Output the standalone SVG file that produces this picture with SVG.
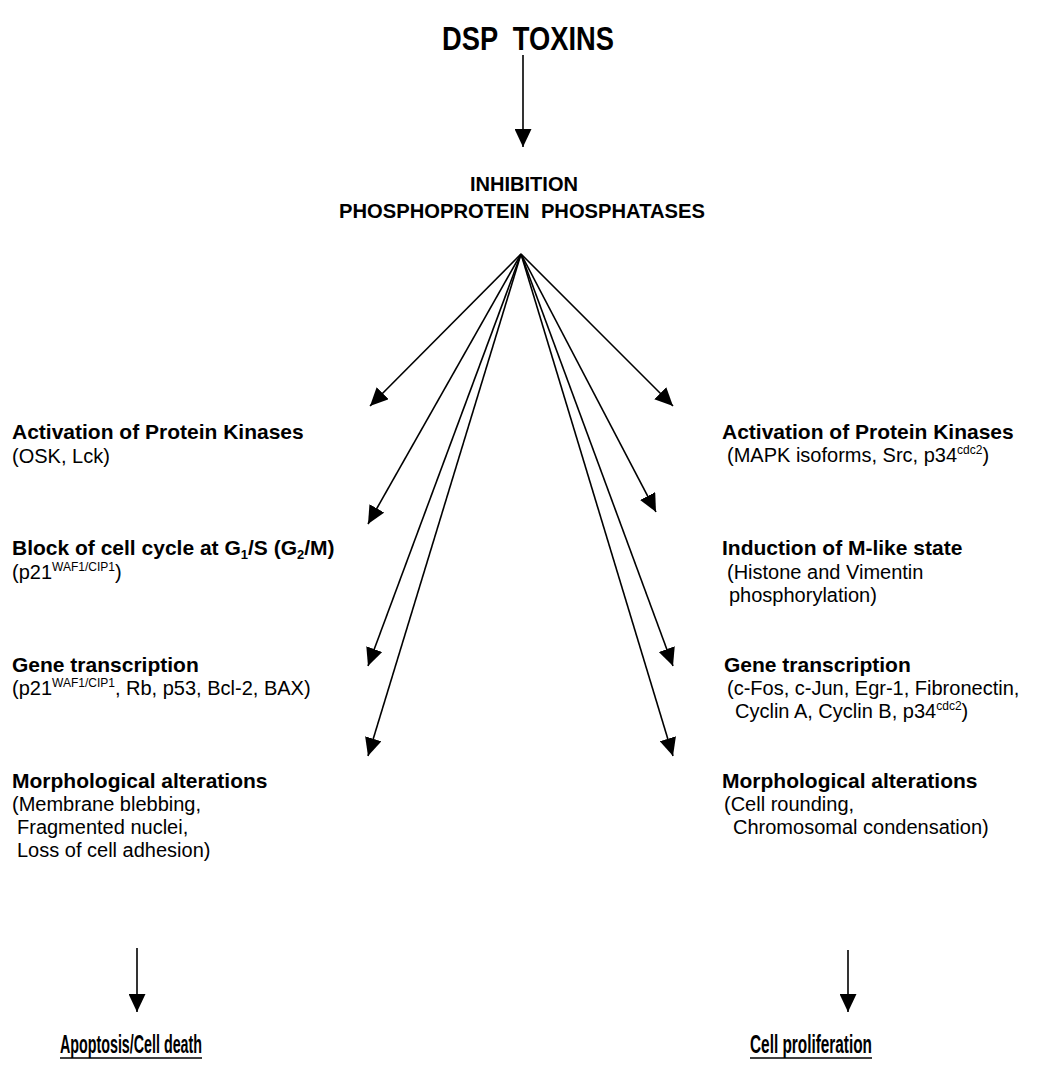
<svg xmlns="http://www.w3.org/2000/svg" width="1040" height="1067" viewBox="0 0 1040 1067">
  <style>
    text { font-family: "Liberation Sans", Arial, sans-serif; fill: #000; }
    .title { font-size: 34px; font-weight: bold; }
    .head { font-size: 21px; font-weight: bold; }
    .body { font-size: 20px; }
    .sup { font-size: 12px; }
    .sub { font-size: 13px; }
    .out { font-size: 25px; font-weight: bold; }
    .edge { stroke: #000; stroke-width: 1.6; fill: none; marker-end: url(#arrow); }
    .rule { stroke: #000; stroke-width: 1.6; }
  </style>
  <defs>
    <marker id="arrow" markerUnits="userSpaceOnUse" markerWidth="19" markerHeight="17" refX="18" refY="8.5" orient="auto">
      <path d="M0,0 L18,8.5 L0,17 z" fill="#000"/>
    </marker>
  </defs>
  <rect width="1040" height="1067" fill="#fff"/>

  <!-- connectors -->
  <g id="connectors">
    <line class="edge" x1="523" y1="55" x2="523" y2="147"/>
    <line class="edge" x1="521" y1="254" x2="370" y2="406"/>
    <line class="edge" x1="521" y1="254" x2="368" y2="524"/>
    <line class="edge" x1="521" y1="254" x2="368" y2="666"/>
    <line class="edge" x1="521" y1="254" x2="368" y2="756"/>
    <line class="edge" x1="521" y1="254" x2="673" y2="406"/>
    <line class="edge" x1="521" y1="254" x2="656" y2="512"/>
    <line class="edge" x1="521" y1="254" x2="673" y2="666"/>
    <line class="edge" x1="521" y1="254" x2="673" y2="756"/>
    <line class="edge" x1="137" y1="948" x2="137" y2="1012"/>
    <line class="edge" x1="848" y1="950" x2="848" y2="1012"/>
  </g>

  <g id="dsp-toxins">
    <text class="title" x="528" y="50" text-anchor="middle" textLength="172" lengthAdjust="spacingAndGlyphs" xml:space="preserve">DSP  TOXINS</text>
  </g>

  <g id="inhibition">
    <text class="head" x="524" y="191" text-anchor="middle" textLength="108" lengthAdjust="spacingAndGlyphs">INHIBITION</text>
    <text class="head" x="522" y="218" text-anchor="middle" textLength="366" lengthAdjust="spacingAndGlyphs" xml:space="preserve">PHOSPHOPROTEIN  PHOSPHATASES</text>
  </g>

  <!-- left branch -->
  <g id="left-kinases">
    <text class="head" x="12" y="439">Activation of Protein Kinases</text>
    <text class="body" x="12" y="463">(OSK, Lck)</text>
  </g>
  <g id="left-cell-cycle">
    <text class="head" x="12" y="555">Block of cell cycle at G<tspan class="sub" dy="4">1</tspan><tspan dy="-4">/S (G</tspan><tspan class="sub" dy="4">2</tspan><tspan dy="-4">/M)</tspan></text>
    <text class="body" x="12" y="579">(p21<tspan class="sup" dy="-8">WAF1/CIP1</tspan><tspan dy="8">)</tspan></text>
  </g>
  <g id="left-transcription">
    <text class="head" x="12" y="672">Gene transcription</text>
    <text class="body" x="12" y="695">(p21<tspan class="sup" dy="-8">WAF1/CIP1</tspan><tspan dy="8">, Rb, p53, Bcl-2, BAX)</tspan></text>
  </g>
  <g id="left-morphology">
    <text class="head" x="12" y="788">Morphological alterations</text>
    <text class="body" x="12" y="811">(Membrane blebbing,</text>
    <text class="body" x="17" y="834">Fragmented nuclei,</text>
    <text class="body" x="17" y="857">Loss of cell adhesion)</text>
  </g>
  <g id="apoptosis">
    <text class="out" x="60" y="1053" textLength="142" lengthAdjust="spacingAndGlyphs">Apoptosis/Cell death</text>
    <line class="rule" x1="60" y1="1058" x2="202" y2="1058"/>
  </g>

  <!-- right branch -->
  <g id="right-kinases">
    <text class="head" x="722" y="439">Activation of Protein Kinases</text>
    <text class="body" x="727" y="462">(MAPK isoforms, Src, p34<tspan class="sup" dy="-8">cdc2</tspan><tspan dy="8">)</tspan></text>
  </g>
  <g id="right-m-state">
    <text class="head" x="722" y="555">Induction of M-like state</text>
    <text class="body" x="727" y="579">(Histone and Vimentin</text>
    <text class="body" x="729" y="602">phosphorylation)</text>
  </g>
  <g id="right-transcription">
    <text class="head" x="724" y="672">Gene transcription</text>
    <text class="body" x="727" y="695">(c-Fos, c-Jun, Egr-1, Fibronectin,</text>
    <text class="body" x="735" y="718">Cyclin A, Cyclin B, p34<tspan class="sup" dy="-8">cdc2</tspan><tspan dy="8">)</tspan></text>
  </g>
  <g id="right-morphology">
    <text class="head" x="722" y="788">Morphological alterations</text>
    <text class="body" x="724" y="811">(Cell rounding,</text>
    <text class="body" x="733" y="834">Chromosomal condensation)</text>
  </g>
  <g id="proliferation">
    <text class="out" x="750" y="1053" textLength="122" lengthAdjust="spacingAndGlyphs">Cell proliferation</text>
    <line class="rule" x1="750" y1="1058" x2="872" y2="1058"/>
  </g>
</svg>
